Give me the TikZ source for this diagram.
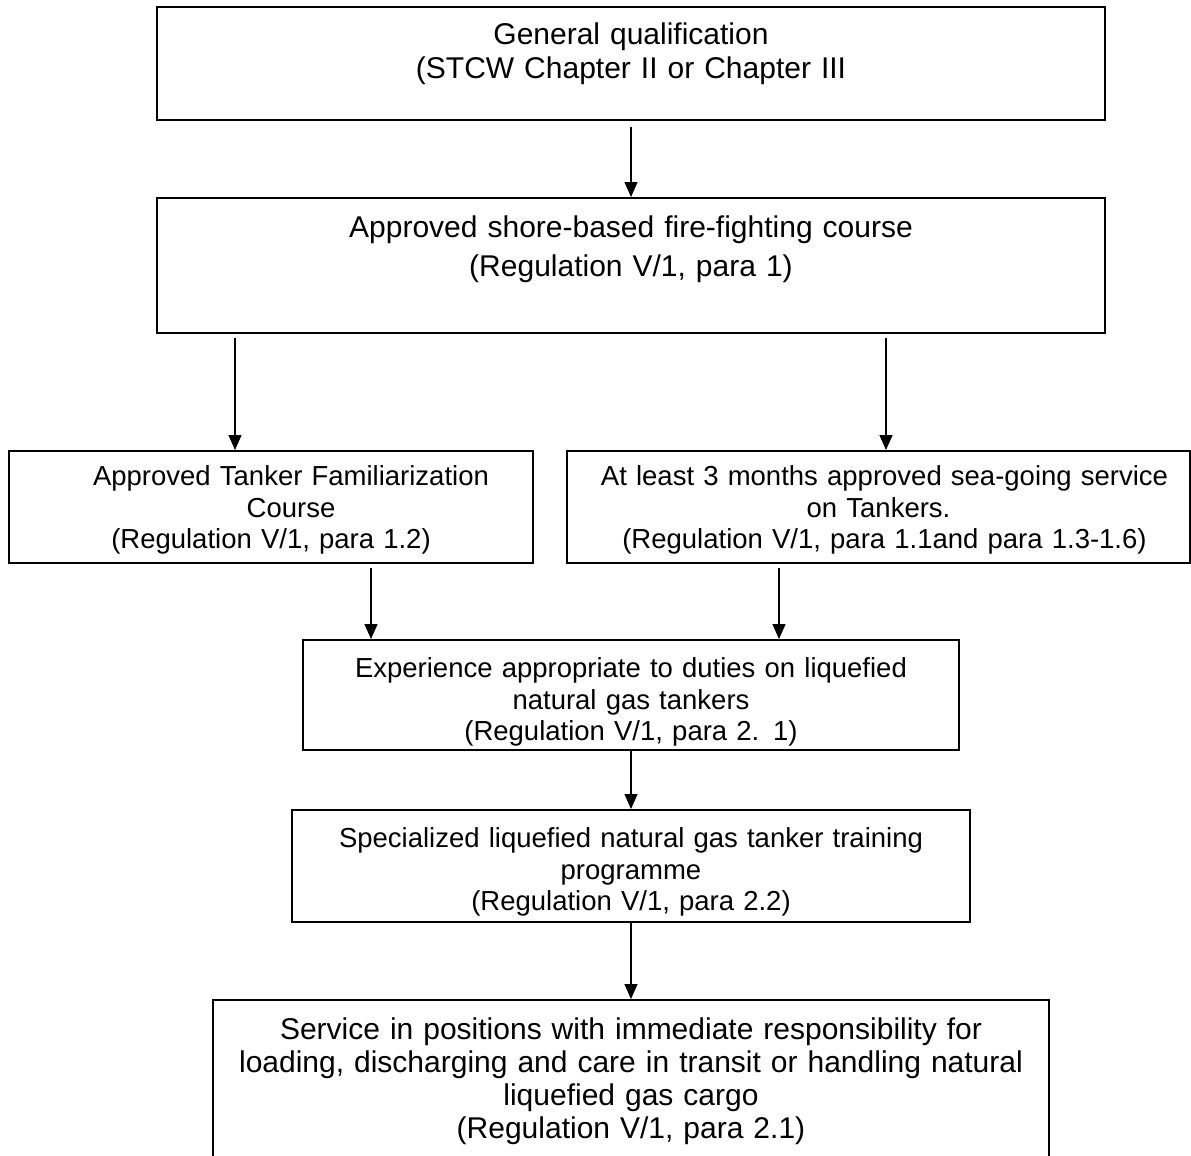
\documentclass[tikz,border=0pt]{standalone}
\usepackage{fontspec}
\setmainfont{Liberation Sans}
\usetikzlibrary{arrows.meta}
\tikzstyle{flowbox}=[
    draw, line width=1.6pt,
    anchor=north, align=center,
    inner xsep=0pt, inner ysep=0pt,
    font=\fontsize{30}{34}\selectfont,
]
\tikzstyle{smallbox}=[
    flowbox,
    font=\fontsize{27.5}{31.5}\selectfont,
]
\tikzstyle{flowarrow}=[
    -{Triangle[length=15pt,width=13pt]},
    line width=1.3pt,
    shorten <=4pt,
]

\begin{document}
\begin{tikzpicture}[x=1pt, y=-1pt]
    \useasboundingbox (0,0) rectangle (1191,1156);
    \node[flowbox, text width=948pt, text height=38pt, text depth=75pt] (gen) at (631,6)
        {General qualification\\(STCW Chapter II or Chapter III};
    \node[flowbox, text width=948pt, text height=40pt, text depth=95pt,
        font=\fontsize{30}{39}\selectfont] (fire) at (631,197)
        {Approved shore-based fire-fighting course\\(Regulation V/1, para 1)};
    \node[smallbox, text width=524pt, text height=35pt, text depth=77pt] (famil) at (271,450)
        {\hspace*{40pt}Approved Tanker Familiarization\\\hspace*{40pt}Course\\(Regulation V/1, para 1.2)};
    \node[smallbox, text width=623pt, text height=35pt, text depth=77pt] (sea) at (878.5,450)
        {\hspace*{12pt}At least 3 months approved sea-going service\\on Tankers.\\\hspace*{12pt}(Regulation V/1, para 1.1and para 1.3-1.6)};
    \node[smallbox, text width=656pt, text height=38pt, text depth=72pt] (exper) at (631,639)
        {Experience appropriate to duties on liquefied\\natural gas tankers\\(Regulation V/1, para 2. 1)};
    \node[smallbox, text width=678pt, text height=38pt, text depth=74pt] (lngtrain) at (631,809)
        {Specialized liquefied natural gas tanker training\\programme\\(Regulation V/1, para 2.2)};
    \node[flowbox, text width=836pt, text height=40pt, text depth=180pt,
        font=\fontsize{30}{33}\selectfont] (service) at (631,999)
        {Service in positions with immediate responsibility for\\loading, discharging and care in transit or handling natural\\liquefied gas cargo\\(Regulation V/1, para 2.1)};

    % arrow ends off the box centres
    \coordinate (famil in) at ([xshift=-36pt]famil.north);
    \coordinate (sea in) at ([xshift=7.5pt]sea.north);
    \coordinate (famil out) at ([xshift=100pt]famil.south);
    \coordinate (sea out) at ([xshift=-99.5pt]sea.south);

    \draw[flowarrow, shorten <=6pt] (gen) -- (fire);
    \draw[flowarrow] (fire.south -| famil in) -- (famil in);
    \draw[flowarrow] (fire.south -| sea in) -- (sea in);
    \draw[flowarrow] (famil out) -- (exper.north -| famil out);
    \draw[flowarrow] (sea out) -- (exper.north -| sea out);
    \draw[flowarrow, shorten <=0pt] (exper) -- (lngtrain);
    \draw[flowarrow, shorten <=0pt] (lngtrain) -- (service);
\end{tikzpicture}
\end{document}
